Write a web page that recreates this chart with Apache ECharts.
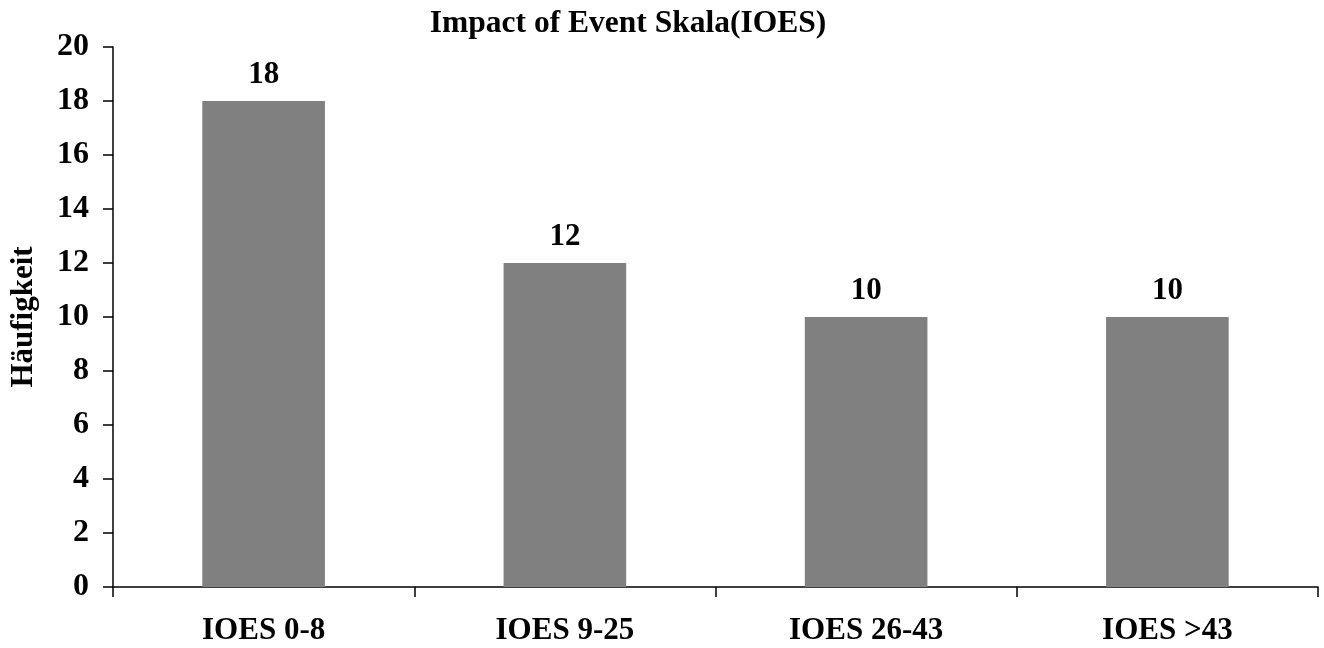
<!DOCTYPE html>
<html>
<head>
<meta charset="utf-8">
<script src="https://cdn.jsdelivr.net/npm/echarts@6/dist/echarts.min.js"></script>
<style>
  html, body { margin: 0; padding: 0; background: #fff; }
  #chart { width: 1324px; height: 648px; }
</style>
</head>
<body>
<div id="chart"></div>
<script>
// IOES score bands and how many respondents fell into each
const categories = ['IOES 0-8', 'IOES 9-25', 'IOES 26-43', 'IOES >43'];
const counts = [18, 12, 10, 10];
const yTicks = { min: 0, max: 20, interval: 2 };

const serif = '"Liberation Serif", "Times New Roman", serif';
const axisText = { fontFamily: serif, fontWeight: 'bold', fontSize: 31, color: '#000' };

const chart = echarts.init(document.getElementById('chart'));
chart.setOption({
  animation: false,
  backgroundColor: '#fff',
  title: {
    text: 'Impact of Event Skala(IOES)',
    left: 623,
    textAlign: 'center',
    top: 3,
    textStyle: { fontFamily: serif, fontWeight: 'bold', fontSize: 31.5, color: '#000' }
  },
  grid: { left: 111, right: 6, top: 47, bottom: 61, containLabel: false },
  xAxis: {
    type: 'category',
    data: categories,
    axisLine: { lineStyle: { color: '#000', width: 1.5 } },
    axisTick: { show: true, length: 10, lineStyle: { color: '#000', width: 1.5 } },
    axisLabel: Object.assign({}, axisText, { margin: 28 })
  },
  yAxis: {
    type: 'value',
    min: yTicks.min,
    max: yTicks.max,
    interval: yTicks.interval,
    name: 'Häufigkeit',
    nameLocation: 'middle',
    nameGap: 74,
    nameTextStyle: axisText,
    axisLine: { show: true, lineStyle: { color: '#000', width: 1.5 } },
    axisTick: { show: true, length: 10, lineStyle: { color: '#000', width: 1.5 } },
    axisLabel: Object.assign({}, axisText, { fontSize: 32, margin: 24 }),
    splitLine: { show: false }
  },
  series: [{
    type: 'bar',
    data: counts,
    barWidth: '40.7%',
    itemStyle: { color: '#808080' },
    label: {
      show: true,
      position: 'top',
      distance: 11,
      fontFamily: serif,
      fontWeight: 'bold',
      fontSize: 31,
      color: '#000'
    }
  }]
});
</script>
</body>
</html>
